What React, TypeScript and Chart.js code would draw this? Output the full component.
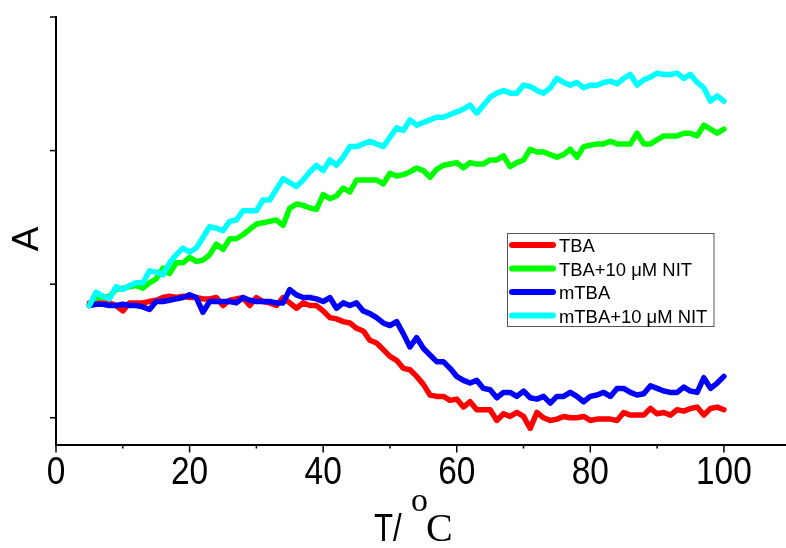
import React, { useEffect, useRef } from "react";
import { Chart, registerables } from "chart.js";

Chart.register(...registerables);

const temps = [
  5, 6, 7, 8, 9, 10, 11, 12, 13, 14, 15, 16, 17, 18, 19, 20, 21, 22, 23, 24,
  25, 26, 27, 28, 29, 30, 31, 32, 33, 34, 35, 36, 37, 38, 39, 40, 41, 42, 43, 44,
  45, 46, 47, 48, 49, 50, 51, 52, 53, 54, 55, 56, 57, 58, 59, 60, 61, 62, 63, 64,
  65, 66, 67, 68, 69, 70, 71, 72, 73, 74, 75, 76, 77, 78, 79, 80, 81, 82, 83, 84,
  85, 86, 87, 88, 89, 90, 91, 92, 93, 94, 95, 96, 97, 98, 99, 100,
];

const tba = [
  0.86, 0.86, 0.86, 0.86, 0.84, 0.8, 0.86, 0.86, 0.86, 0.87,
  0.88, 0.9, 0.91, 0.9, 0.91, 0.9, 0.9, 0.89, 0.89, 0.9,
  0.84, 0.88, 0.89, 0.9, 0.84, 0.9, 0.87, 0.86, 0.84, 0.9,
  0.86, 0.82, 0.86, 0.84, 0.84, 0.8, 0.75, 0.74, 0.72, 0.71,
  0.67, 0.65, 0.58, 0.56, 0.51, 0.46, 0.43, 0.37, 0.36, 0.31,
  0.25, 0.17, 0.16, 0.16, 0.13, 0.14, 0.08, 0.12, 0.06, 0.06,
  0.06, -0.02, 0.03, 0.01, 0.04, 0.01, -0.08, 0.04, 0.0, -0.02,
  -0.01, 0.01, 0.0, 0.0, 0.01, -0.02, -0.01, -0.01, -0.01, -0.02,
  0.04, 0.02, 0.02, 0.02, 0.07, 0.03, 0.04, 0.02, 0.06, 0.05,
  0.07, 0.08, 0.02, 0.07, 0.08, 0.06,
];

const tbaNit = [
  0.84, 0.9, 0.9, 0.91, 0.96, 0.97, 0.98, 0.99, 0.97, 1.01,
  1.04, 1.12, 1.08, 1.16, 1.16, 1.2, 1.17, 1.18, 1.22, 1.3,
  1.26, 1.34, 1.34, 1.37, 1.41, 1.45, 1.46, 1.47, 1.48, 1.44,
  1.57, 1.6, 1.59, 1.57, 1.56, 1.67, 1.64, 1.66, 1.72, 1.69,
  1.78, 1.78, 1.78, 1.78, 1.75, 1.83, 1.81, 1.82, 1.84, 1.87,
  1.85, 1.8, 1.86, 1.89, 1.9, 1.91, 1.87, 1.91, 1.9, 1.9,
  1.93, 1.93, 1.96, 1.88, 1.91, 1.93, 2.01, 1.99, 1.99, 1.97,
  1.95, 1.97, 2.01, 1.95, 2.03, 2.04, 2.05, 2.05, 2.07, 2.05,
  2.05, 2.05, 2.13, 2.05, 2.05, 2.08, 2.11, 2.11, 2.11, 2.13,
  2.13, 2.11, 2.19, 2.16, 2.13, 2.16,
];

const mtba = [
  0.84, 0.85, 0.85, 0.84, 0.84, 0.85, 0.84, 0.84, 0.83, 0.81,
  0.87, 0.87, 0.88, 0.89, 0.9, 0.92, 0.9, 0.79, 0.87, 0.87,
  0.87, 0.87, 0.86, 0.9, 0.88, 0.87, 0.87, 0.87, 0.86, 0.86,
  0.96, 0.92, 0.9, 0.9, 0.89, 0.87, 0.9, 0.82, 0.86, 0.84,
  0.86, 0.8, 0.78, 0.75, 0.71, 0.69, 0.72, 0.63, 0.53, 0.6,
  0.52, 0.47, 0.42, 0.42, 0.37, 0.31, 0.28, 0.26, 0.28, 0.22,
  0.21, 0.15, 0.19, 0.19, 0.16, 0.2, 0.15, 0.14, 0.16, 0.11,
  0.16, 0.16, 0.19, 0.16, 0.12, 0.16, 0.17, 0.19, 0.16, 0.22,
  0.22, 0.19, 0.17, 0.18, 0.24, 0.22, 0.2, 0.19, 0.19, 0.23,
  0.2, 0.19, 0.3, 0.22, 0.26, 0.31,
];

const mtbaNit = [
  0.84, 0.94, 0.91, 0.89, 0.98, 0.96, 0.99, 1.01, 1.01, 1.1,
  1.09, 1.07, 1.16, 1.22, 1.27, 1.24, 1.27, 1.35, 1.43, 1.42,
  1.4, 1.47, 1.48, 1.55, 1.55, 1.55, 1.63, 1.63, 1.71, 1.79,
  1.76, 1.73, 1.78, 1.84, 1.89, 1.85, 1.93, 1.89, 1.95, 2.03,
  2.03, 2.05, 2.07, 2.05, 2.03, 2.1, 2.17, 2.15, 2.23, 2.19,
  2.21, 2.23, 2.25, 2.25, 2.27, 2.29, 2.31, 2.34, 2.28, 2.34,
  2.4, 2.43, 2.45, 2.43, 2.43, 2.49, 2.48, 2.45, 2.43, 2.47,
  2.54, 2.51, 2.49, 2.51, 2.47, 2.49, 2.49, 2.51, 2.52, 2.5,
  2.54, 2.57, 2.49, 2.53, 2.55, 2.58, 2.57, 2.57, 2.58, 2.54,
  2.57, 2.51, 2.47, 2.37, 2.41, 2.37,
];

const seriesLabels = ["TBA", "TBA+10 \u03bcM NIT", "mTBA", "mTBA+10 \u03bcM NIT"];
const seriesColors = ["#ff0000", "#00ff00", "#0000ff", "#00ffff"];
const seriesOrder = [3, 2, 1, 0];

const xTicks = [0, 10, 20, 30, 40, 50, 60, 70, 80, 90, 100];
const xTickLabels = ["0", "", "20", "", "40", "", "60", "", "80", "", "100"];
const yTicks = [0, 1, 2, 3];
const xTitleMain = "T/";
const xTitleSup = "o";
const xTitleUnit = "C";
const yTitle = "A";

const SANS = '"Liberation Sans", Arial, sans-serif';
const SERIF = '"Liberation Serif", "Times New Roman", serif';

function squeezedText(ctx: any, text: string, x: number, y: number, sx: number, align: string) {
  ctx.save();
  ctx.translate(x, y);
  ctx.scale(sx, 1);
  ctx.textAlign = align;
  ctx.fillText(text, 0, 0);
  ctx.restore();
}

const decorPlugin = {
  id: "decor",
  afterDraw(chart: any) {
    const { ctx, chartArea } = chart;
    const xs = chart.scales.x;
    const ys = chart.scales.y;
    ctx.save();
    ctx.strokeStyle = "#000";
    ctx.lineWidth = 1.5;
    xTicks.forEach((v, i) => {
      const px = xs.getPixelForValue(v);
      const len = xTickLabels[i] ? 8 : 4;
      ctx.beginPath();
      ctx.moveTo(px, chartArea.bottom);
      ctx.lineTo(px, chartArea.bottom + len);
      ctx.stroke();
    });
    yTicks.forEach((v) => {
      const py = ys.getPixelForValue(v);
      ctx.beginPath();
      ctx.moveTo(chartArea.left - 6, py);
      ctx.lineTo(chartArea.left, py);
      ctx.stroke();
    });
    ctx.fillStyle = "#000";
    ctx.textBaseline = "alphabetic";
    ctx.font = `38px ${SANS}`;
    xTicks.forEach((v, i) => {
      if (!xTickLabels[i]) return;
      squeezedText(ctx, xTickLabels[i], xs.getPixelForValue(v), 484, 0.88, "center");
    });
    ctx.font = `38px ${SANS}`;
    squeezedText(ctx, xTitleMain, 374, 541, 0.82, "left");
    ctx.font = `34px ${SERIF}`;
    squeezedText(ctx, xTitleSup, 411, 511, 1, "left");
    ctx.font = `40px ${SERIF}`;
    squeezedText(ctx, xTitleUnit, 426, 541, 1, "left");
    ctx.save();
    ctx.translate(38, 239);
    ctx.rotate(-Math.PI / 2);
    ctx.textAlign = "center";
    ctx.font = `37px ${SANS}`;
    ctx.fillText(yTitle, 0, 0);
    ctx.restore();
    const bx = 507.5, by = 233.5, bw = 206.5, bh = 93;
    ctx.fillStyle = "#fff";
    ctx.fillRect(bx, by, bw, bh);
    ctx.strokeStyle = "#555";
    ctx.lineWidth = 1;
    ctx.strokeRect(bx, by, bw, bh);
    const rows = [245, 268.5, 292, 315.5];
    chart.data.datasets.forEach((ds: any, i: number) => {
      const ry = rows[i];
      ctx.strokeStyle = ds.borderColor;
      ctx.lineWidth = 6;
      ctx.lineCap = "round";
      ctx.beginPath();
      ctx.moveTo(512, ry);
      ctx.lineTo(553, ry);
      ctx.stroke();
      ctx.fillStyle = "#000";
      ctx.font = `19px ${SANS}`;
      ctx.textAlign = "left";
      ctx.textBaseline = "alphabetic";
      squeezedText(ctx, ds.label, 559, ry + 7, 0.97, "left");
    });
    ctx.restore();
  },
};

export default function App() {
  const canvasRef = useRef<HTMLCanvasElement | null>(null);

  useEffect(() => {
    document.body.style.margin = "0";
    const canvas = canvasRef.current;
    if (!canvas) return;
    const values = [tba, tbaNit, mtba, mtbaNit];
    const chart = new Chart(canvas, {
      type: "line",
      data: {
        datasets: values.map((arr, i) => ({
          label: seriesLabels[i],
          data: temps.map((t, j) => ({ x: t, y: arr[j] })),
          borderColor: seriesColors[i],
          backgroundColor: seriesColors[i],
          borderWidth: 5.5,
          pointRadius: 0,
          tension: 0,
          fill: false,
          order: seriesOrder[i],
          borderJoinStyle: "round" as const,
          borderCapStyle: "round" as const,
        })),
      },
      options: {
        responsive: false,
        animation: false,
        devicePixelRatio: 1,
        layout: { padding: { top: 17, left: 0, right: 0, bottom: 0 } },
        plugins: {
          legend: { display: false },
          tooltip: { enabled: false },
        },
        scales: {
          x: {
            type: "linear",
            min: 0,
            max: 109.3,
            afterBuildTicks: (s: any) => {
              s.ticks = xTicks.map((v) => ({ value: v }));
            },
            afterFit: (s: any) => {
              s.height = 103.5;
            },
            ticks: { display: false },
            grid: { display: false },
            border: { display: true, color: "#000", width: 2 },
          },
          y: {
            type: "linear",
            min: -0.2,
            max: 3,
            afterBuildTicks: (s: any) => {
              s.ticks = yTicks.map((v) => ({ value: v }));
            },
            afterFit: (s: any) => {
              s.width = 56;
            },
            ticks: { display: false },
            grid: { display: false },
            border: { display: true, color: "#000", width: 2 },
          },
        },
      },
      plugins: [decorPlugin],
    });
    return () => chart.destroy();
  }, []);

  return (
    <div style={{ width: 786, height: 548 }}>
      <canvas ref={canvasRef} width={786} height={548} style={{ display: "block" }} />
    </div>
  );
}
